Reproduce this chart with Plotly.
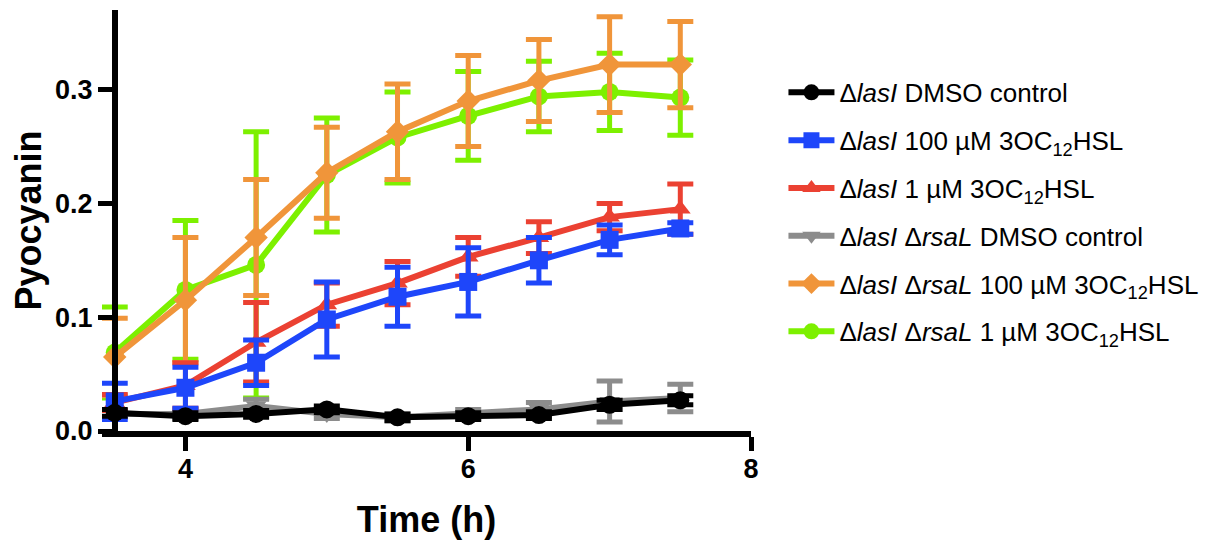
import plotly.graph_objects as go

time_h = [3.5, 4.0, 4.5, 5.0, 5.5, 6.0, 6.5, 7.0, 7.5]

names = [
    "Δ<i>lasI</i> DMSO control",
    "Δ<i>lasI</i> 100 µM 3OC<sub>12</sub>HSL",
    "Δ<i>lasI</i> 1 µM 3OC<sub>12</sub>HSL",
    "Δ<i>lasI</i> Δ<i>rsaL</i> DMSO control",
    "Δ<i>lasI</i> Δ<i>rsaL</i> 100 µM 3OC<sub>12</sub>HSL",
    "Δ<i>lasI</i> Δ<i>rsaL</i> 1 µM 3OC<sub>12</sub>HSL",
]

lasI_dmso = [0.016, 0.013, 0.015, 0.019, 0.012, 0.013, 0.014, 0.023, 0.027]
lasI_dmso_err = [0.003, 0.003, 0.003, 0.003, 0.003, 0.003, 0.003, 0.004, 0.004]

lasI_100 = [0.026, 0.038, 0.060, 0.098, 0.118, 0.131, 0.150, 0.168, 0.178]
lasI_100_err = [0.016, 0.018, 0.020, 0.033, 0.026, 0.030, 0.020, 0.013, 0.005]

lasI_1 = [0.025, 0.040, 0.078, 0.111, 0.130, 0.153, 0.170, 0.188, 0.195]
lasI_1_err = [0.007, 0.020, 0.035, 0.019, 0.019, 0.017, 0.014, 0.012, 0.022]

rsaL_dmso = [0.015, 0.015, 0.022, 0.015, 0.012, 0.015, 0.019, 0.026, 0.029]
rsaL_dmso_err = [0.003, 0.004, 0.006, 0.004, 0.003, 0.004, 0.006, 0.018, 0.012]

rsaL_100 = [0.065, 0.115, 0.170, 0.227, 0.263, 0.290, 0.308, 0.322, 0.322]
rsaL_100_err = [0.034, 0.055, 0.051, 0.040, 0.042, 0.040, 0.036, 0.042, 0.038]

rsaL_1 = [0.069, 0.124, 0.146, 0.225, 0.258, 0.277, 0.294, 0.298, 0.293]
rsaL_1_err = [0.040, 0.061, 0.117, 0.050, 0.040, 0.039, 0.031, 0.034, 0.033]

series = [
    (lasI_dmso, lasI_dmso_err, "#000000", "circle"),
    (lasI_100, lasI_100_err, "#1E46FA", "square"),
    (lasI_1, lasI_1_err, "#EB4132", "triangle-up"),
    (rsaL_dmso, rsaL_dmso_err, "#8C8C8C", "triangle-down"),
    (rsaL_100, rsaL_100_err, "#F0953A", "diamond"),
    (rsaL_1, rsaL_1_err, "#7DF000", "circle"),
]

FONT = "Liberation Sans, Arial, Helvetica, sans-serif"

fig = go.Figure()
# draw in reverse so the first series sits on top
for idx in reversed(range(len(series))):
    vals, err, col, sym = series[idx]
    fig.add_trace(go.Scatter(
        x=time_h, y=vals, name=names[idx],
        mode="lines+markers",
        line=dict(color=col, width=6),
        marker=dict(color=col, symbol=sym, size=18),
        error_y=dict(type="data", array=err, visible=True,
                     color=col, thickness=5, width=13),
        cliponaxis=False,
        legendgroup=f"g{idx}", legendrank=idx + 1,
    ))

fig.update_layout(
    width=1217, height=546,
    margin=dict(l=94, r=474, t=2, b=123, autoexpand=False),
    paper_bgcolor="white", plot_bgcolor="white",
    font=dict(family=FONT, color="black"),
    showlegend=True,
    legend=dict(
        x=1.05, y=0.86, xanchor="left", yanchor="top",
        font=dict(size=26, family=FONT, color="black"),
        tracegroupgap=11, itemwidth=46,
        bgcolor="rgba(0,0,0,0)",
    ),
)

fig.update_xaxes(
    range=[3.41, 8], tickvals=[4, 6, 8], automargin=False,
    showline=True, linecolor="black", linewidth=6,
    ticks="outside", ticklen=14, tickwidth=5, tickcolor="black",
    ticklabelstandoff=-5,
    tickfont=dict(size=27, family=FONT, color="black", weight="bold"),
    showgrid=False, zeroline=False,
    title=dict(text="<b>Time (h)</b>", font=dict(size=36, family=FONT, color="black"), standoff=25),
)
fig.update_yaxes(
    range=[0, 0.37], tickvals=[0, 0.1, 0.2, 0.3], tickformat=".1f",
    anchor="free", position=0.02, automargin=False,
    showline=True, linecolor="black", linewidth=6,
    ticks="outside", ticklen=14, tickwidth=5, tickcolor="black",
    tickfont=dict(size=27, family=FONT, color="black", weight="bold"),
    showgrid=False, zeroline=False,
    title=dict(text="<b>Pyocyanin</b>", font=dict(size=36, family=FONT, color="black"), standoff=10),
)

fig.write_html("out.html")
